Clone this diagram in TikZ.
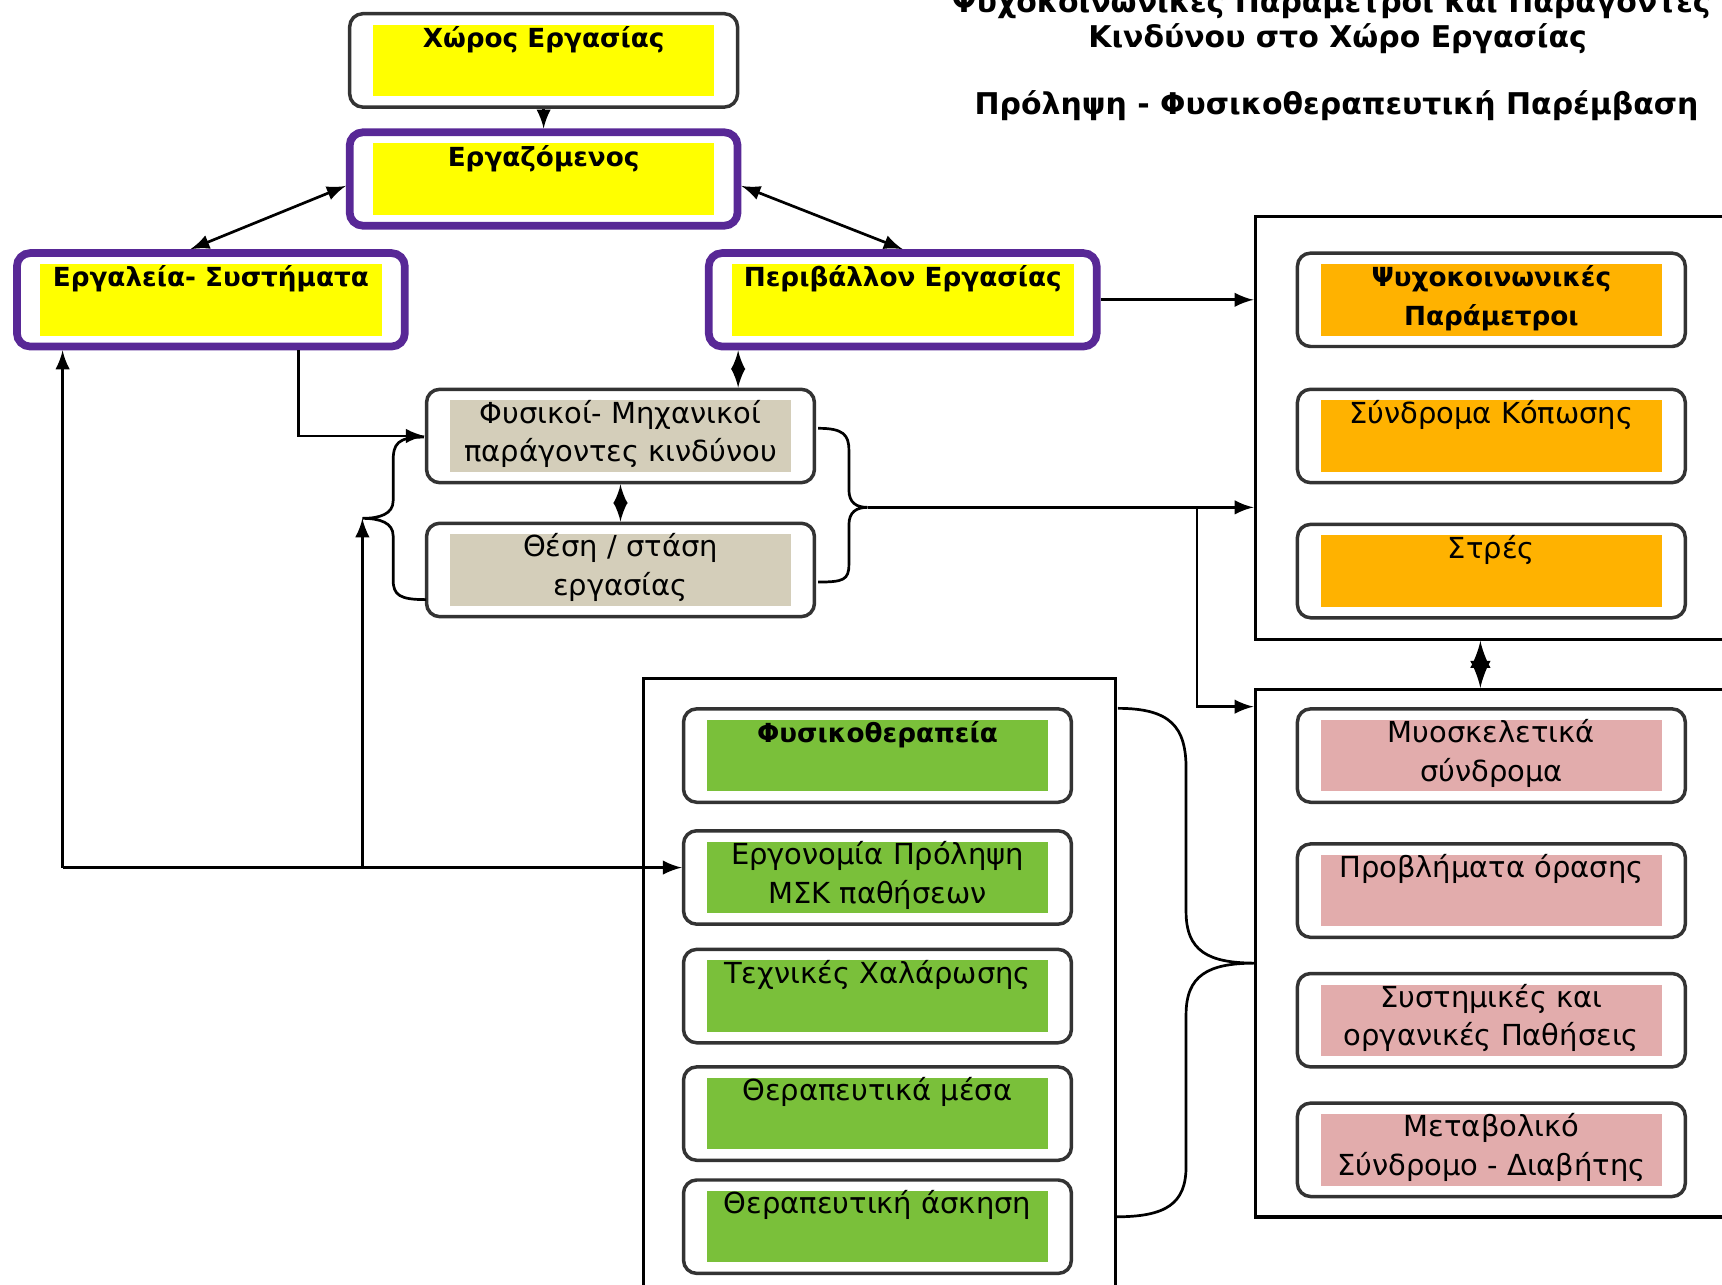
\documentclass[tikz,border=0pt]{standalone}
\usepackage{fontspec}
\setmainfont{DejaVu Sans}
\usetikzlibrary{positioning}
\definecolor{purp}{RGB}{88,40,150}
\definecolor{yel}{RGB}{255,255,0}
\definecolor{tanbox}{RGB}{212,206,186}
\definecolor{orng}{RGB}{255,178,0}
\definecolor{pinkbox}{RGB}{226,172,172}
\definecolor{grn}{RGB}{122,192,58}
\newcommand{\twolines}[2]{\rule[-0.3\baselineskip]{0pt}{\dimexpr0.7\baselineskip+0.8mm\relax}#1\\\strut#2}
\tikzset{
  card/.style={draw=black!80, line width=0.9pt, rounded corners=1.2mm,
    minimum width=3.53cm, minimum height=0.85cm, inner sep=0pt, align=center,
    font=\fontsize{7.5}{10}\selectfont,
    path picture={\fill[#1, sharp corners]
      ([xshift=2.1mm,yshift=-1mm]path picture bounding box.north west) rectangle
      ([xshift=-2.1mm,yshift=1mm]path picture bounding box.south east);}},
  boldcard/.style={card=#1, font=\fontsize{6.8}{10}\selectfont\bfseries},
  keycard/.style={boldcard=#1, draw=purp, line width=2pt},
  frame/.style={draw, line width=0.8pt, inner sep=0pt},
  conn/.style={line width=0.7pt},
  heading/.style={font=\fontsize{7.75}{10}\selectfont\bfseries, inner sep=0pt},
}
\begin{document}
\begin{tikzpicture}[x=0.01cm, y=-0.01cm]
  \useasboundingbox (0,0) rectangle (1568,1170);
  % title
  \node[heading] (t1) at (1212,3) {Ψυχοκοινωνικές Παράμετροι και Παράγοντες};
  \node[heading] (t2) at (1218,35) {Κινδύνου στο Χώρο Εργασίας};
  \node[heading] (t3) at (1217,96) {Πρόληψη - Φυσικοθεραπευτική Παρέμβαση};
  % frames
  \node[frame, minimum width=4.40cm, minimum height=3.85cm] (topbox) at (1363,389.5) {};
  \node[frame, minimum width=4.40cm, minimum height=4.80cm] (botbox) at (1363,868) {};
  \node[frame, minimum width=4.30cm, minimum height=5.70cm] (grnbox) at (801,903) {};
  % worker
  \node[boldcard=yel] (xoros) at (495,55) {\twolines{Χώρος Εργασίας}{}};
  \node[keycard=yel] (ergaz) at (495,163) {\twolines{Εργαζόμενος}{}};
  \node[keycard=yel] (ergal) at (192,273) {\twolines{Εργαλεία- Συστήματα}{}};
  \node[keycard=yel] (peri) at (822,273) {\twolines{Περιβάλλον Εργασίας}{}};
  \node[card=tanbox] (fys) at (565,397) {\twolines{Φυσικοί- Μηχανικοί}{παράγοντες κινδύνου}};
  \node[card=tanbox] (thesi) at (565,519) {\twolines{Θέση / στάση}{εργασίας}};
  % risk factors
  \node[boldcard=orng] (psy) at (1358,273) {\twolines{Ψυχοκοινωνικές}{Παράμετροι}};
  \node[card=orng] (kop) at (1358,397) {\twolines{Σύνδρομα Κόπωσης}{}};
  \node[card=orng] (stres) at (1358,520) {\twolines{Στρές}{}};
  % disorders
  \node[card=pinkbox] (myo) at (1358,688) {\twolines{Μυοσκελετικά}{σύνδρομα}};
  \node[card=pinkbox] (orasi) at (1358,811) {\twolines{Προβλήματα όρασης}{}};
  \node[card=pinkbox] (syst) at (1358,929) {\twolines{Συστημικές και}{οργανικές Παθήσεις}};
  \node[card=pinkbox] (metab) at (1358,1047) {\twolines{Μεταβολικό}{Σύνδρομο - Διαβήτης}};
  % intervention
  \node[boldcard=grn] (physio) at (799,688) {\twolines{Φυσικοθεραπεία}{}};
  \node[card=grn] (ergo) at (799,799) {\twolines{Εργονομία Πρόληψη}{ΜΣΚ παθήσεων}};
  \node[card=grn] (texn) at (799,907) {\twolines{Τεχνικές Χαλάρωσης}{}};
  \node[card=grn] (mesa) at (799,1014) {\twolines{Θεραπευτικά μέσα}{}};
  \node[card=grn] (askisi) at (799,1117) {\twolines{Θεραπευτική άσκηση}{}};
  % braces
  \coordinate (lbr) at (330,472);
  \coordinate (rbr) at (790,462);
  \coordinate (bbr) at (1143,877);
  \draw[conn] (386,398) .. controls (362,398) and (358,404) .. (358,420) -- (358,456)
    .. controls (358,468) and (346,472) .. (lbr) .. controls (346,472) and (358,476) .. (358,488)
    -- (358,528) .. controls (358,542) and (364,546) .. (388,546);
  \draw[conn] (745,390) .. controls (768,390) and (773,396) .. (773,410) -- (773,446)
    .. controls (773,458) and (780,462) .. (rbr) .. controls (780,462) and (773,466) .. (773,478)
    -- (773,514) .. controls (773,528) and (768,530) .. (745,530);
  \draw[conn] (1018,645) .. controls (1066,645) and (1080,662) .. (1080,700) -- (1080,830)
    .. controls (1080,866) and (1100,877) .. (bbr) .. controls (1100,877) and (1080,888) .. (1080,924)
    -- (1080,1062) .. controls (1080,1096) and (1062,1108) .. (1016,1108);
  % arrows
  \draw[conn,-latex] (xoros) -- (ergaz);
  \draw[conn,latex-latex] (ergaz.182) -- (ergal.112);
  \draw[conn,latex-latex] (ergaz.-2) -- (peri.north);
  \coordinate (pf) at ([xshift=-0.71cm]fys.north east);
  \draw[conn,latex-latex] (pf) -- (pf |- peri.south);
  \draw[conn,latex-latex] (fys) -- (thesi);
  \draw[conn,-latex] ([xshift=0.8cm]ergal.south) |- (fys.west);
  \draw[conn,-latex] (peri.east) -- (peri.east -| topbox.west);
  \draw[conn,-latex] (rbr) -- (rbr -| topbox.west);
  \coordinate (split) at (1090,462);
  \draw[conn,-latex] (split) |- ([yshift=-0.17cm]botbox.north west);
  \coordinate (mid) at (1348,0);
  \draw[line width=1.4pt,latex-latex] (topbox.south -| mid) -- (botbox.north -| mid);
  \coordinate (jl) at (57,0);
  \coordinate (ein) at ([yshift=0.09cm]ergo.west);
  \draw[conn,-latex] (jl |- ein) -- (ein);
  \draw[conn,-latex] (jl |- ein) -- (jl |- ergal.south);
  \draw[conn,-latex] (lbr |- ein) -- (lbr);
\end{tikzpicture}
\end{document}
